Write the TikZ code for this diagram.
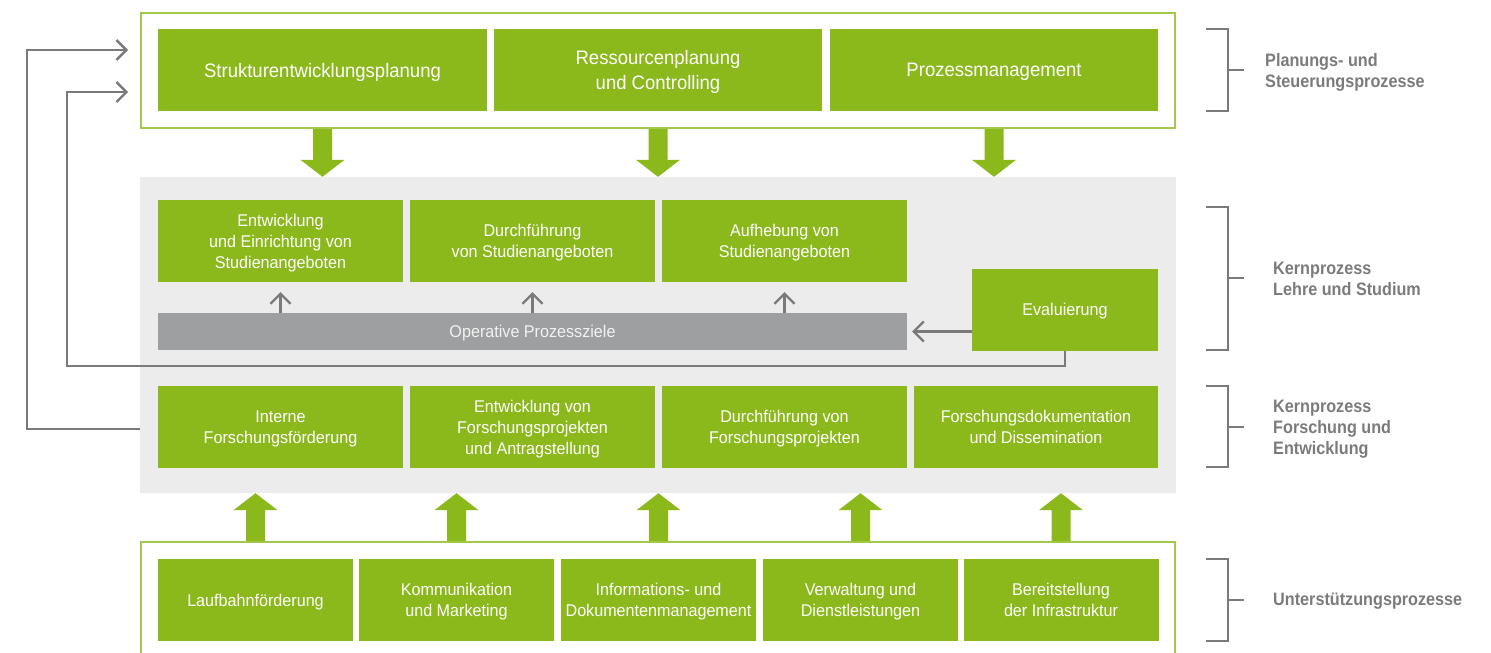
\documentclass[tikz,border=0pt]{standalone}
\usepackage{fontspec}
\setmainfont{Liberation Sans}[FakeStretch=0.95]
\newfontfamily\grouplabelfont{Liberation Sans}[FakeStretch=0.9]
\usetikzlibrary{arrows.meta,calc}

\definecolor{procgreen}{HTML}{8BB81B}
\definecolor{framegreen}{HTML}{A2C94A}
\definecolor{panelgray}{HTML}{EBECEB}
\definecolor{bargray}{HTML}{9E9FA1}
\definecolor{bartext}{HTML}{F2F2F2}
\definecolor{linegray}{HTML}{7A7A7A}
\definecolor{labelgray}{HTML}{7B7B7B}

\tikzset{
  proc/.style={fill=procgreen, text=white, inner sep=0pt, align=center,
    minimum height=82pt, text depth=-4.5pt, font=\fontsize{17}{21}\selectfont},
  bigproc/.style={proc, text depth=-6.5pt, font=\fontsize{19.5}{24.7}\selectfont},
  frame/.style={draw=framegreen, line width=2pt, inner sep=0pt},
  flow/.style={draw=linegray, line width=2.3pt,
    -{Straight Barb[length=10pt,width=20pt]}},
  bracket/.style={draw=linegray, line width=2.5pt},
  grouplabel/.style={text=labelgray, anchor=west, inner sep=0pt, align=left,
    text depth=0pt, font=\grouplabelfont\bfseries\fontsize{18}{21}\selectfont},
}

% broad green arrow from #1 (shaft start) to #2 (tip), vertical
\newcommand\broadarrow[2]{%
  \fill[procgreen] let \p1=(#1), \p2=(#2), \n1={sign(\y2-\y1)} in
    (\x1-9.5pt,\y1) -- (\x1-9.5pt,\y2-\n1*17pt) -- (\x1-22pt,\y2-\n1*17pt)
    -- (\x1,\y2) -- (\x1+22pt,\y2-\n1*17pt) -- (\x1+9.5pt,\y2-\n1*17pt)
    -- (\x1+9.5pt,\y1) -- cycle;}

\begin{document}
\begin{tikzpicture}[x=1pt,y=-1pt]
\useasboundingbox (0,0) rectangle (1491,653);

% planning and steering
\node[frame, minimum width=1034pt, minimum height=115pt] (topframe) at (658,70.5) {};
\node[bigproc, minimum width=329pt] (plan1) at (322.5,70) {Strukturentwicklungsplanung};
\node[bigproc, minimum width=328pt] (plan2) at (658,70) {Ressourcenplanung\\und Controlling};
\node[bigproc, minimum width=328pt] (plan3) at (994,70) {Prozessmanagement};

% core processes panel
\node[fill=panelgray, inner sep=0pt, minimum width=1036pt, minimum height=316pt] (panel) at (658,335) {};

\node[proc, minimum width=245pt] (teach1) at (280.5,241) {Entwicklung\\und Einrichtung von\\Studienangeboten};
\node[proc, minimum width=245pt] (teach2) at (532.5,241) {Durchführung\\von Studienangeboten};
\node[proc, minimum width=245pt] (teach3) at (784.5,241) {Aufhebung von\\Studienangeboten};
\node[proc, minimum width=186pt] (eval) at (1065,309.5) {Evaluierung};
\node[fill=bargray, text=bartext, inner sep=0pt, minimum width=749pt, minimum height=37pt,
  text depth=-3pt, font=\fontsize{17}{21}\selectfont] (goals) at (532.5,331.5) {Operative Prozessziele};

\node[proc, minimum width=245pt] (res1) at (280.5,427) {Interne\\Forschungsförderung};
\node[proc, minimum width=245pt] (res2) at (532.5,427) {Entwicklung von\\Forschungsprojekten\\und Antragstellung};
\node[proc, minimum width=245pt] (res3) at (784.5,427) {Durchführung von\\Forschungsprojekten};
\node[proc, minimum width=244pt] (res4) at (1036,427) {Forschungsdokumentation\\und Dissemination};

% support processes
\draw[framegreen, line width=2pt] (141,660) |- (1175,542) -- (1175,660);
\coordinate (supporttop) at (658,541);
\node[proc, minimum width=195pt] (sup1) at (255.5,600) {Laufbahnförderung};
\node[proc, minimum width=195pt] (sup2) at (456.5,600) {Kommunikation\\und Marketing};
\node[proc, minimum width=195pt] (sup3) at (658.5,600) {Informations- und\\Dokumentenmanagement};
\node[proc, minimum width=195pt] (sup4) at (860.5,600) {Verwaltung und\\Dienstleistungen};
\node[proc, minimum width=195pt] (sup5) at (1061,600) {Bereitstellung\\der Infrastruktur};

% broad arrows between the layers
\foreach \nd in {plan1,plan2,plan3}
  \broadarrow{topframe.south -| \nd}{panel.north -| \nd};
\foreach \nd in {sup1,sup2,sup3,sup4,sup5}
  \broadarrow{supporttop -| \nd}{panel.south -| \nd};

% operative goals feed the teaching processes
\foreach \nd in {teach1,teach2,teach3}
  \draw[flow, shorten >=10pt] (goals.north -| \nd.south) -- (\nd.south);
\draw[flow, shorten >=5pt] (eval.west |- goals.east) -- (goals.east);

% feedback loops to planning
\coordinate (innerlow) at (67,366);
\coordinate (innerhigh) at (67,92);
\draw[flow, shorten >=12pt] (eval.south) |- (innerlow) -- (innerhigh) -- (topframe.west |- innerhigh);
\coordinate (outerlow) at (27,429);
\coordinate (outerhigh) at (27,50);
\draw[flow, shorten >=12pt] (panel.west |- outerlow) -- (outerlow) -- (outerhigh) -- (topframe.west |- outerhigh);

% group brackets
\draw[bracket] (1206,29) -| (1228,111) -- (1206,111) (1228,70) -- (1244,70);
\draw[bracket] (1206,207) -| (1228,350) -- (1206,350) (1228,278) -- (1244,278);
\draw[bracket] (1206,386) -| (1228,467) -- (1206,467) (1228,427) -- (1244,427);
\draw[bracket] (1206,559) -| (1228,641) -- (1206,641) (1228,600) -- (1244,600);

\node[grouplabel] (lbplan) at (1265,70) {Planungs- und\\Steuerungsprozesse};
\node[grouplabel] (lbteach) at (1273,279.2) {Kernprozess\\Lehre und Studium};
\node[grouplabel] (lbres) at (1273,427.5) {Kernprozess\\Forschung und\\Entwicklung};
\node[grouplabel] (lbsup) at (1273,599.5) {Unterstützungsprozesse};
\end{tikzpicture}
\end{document}
